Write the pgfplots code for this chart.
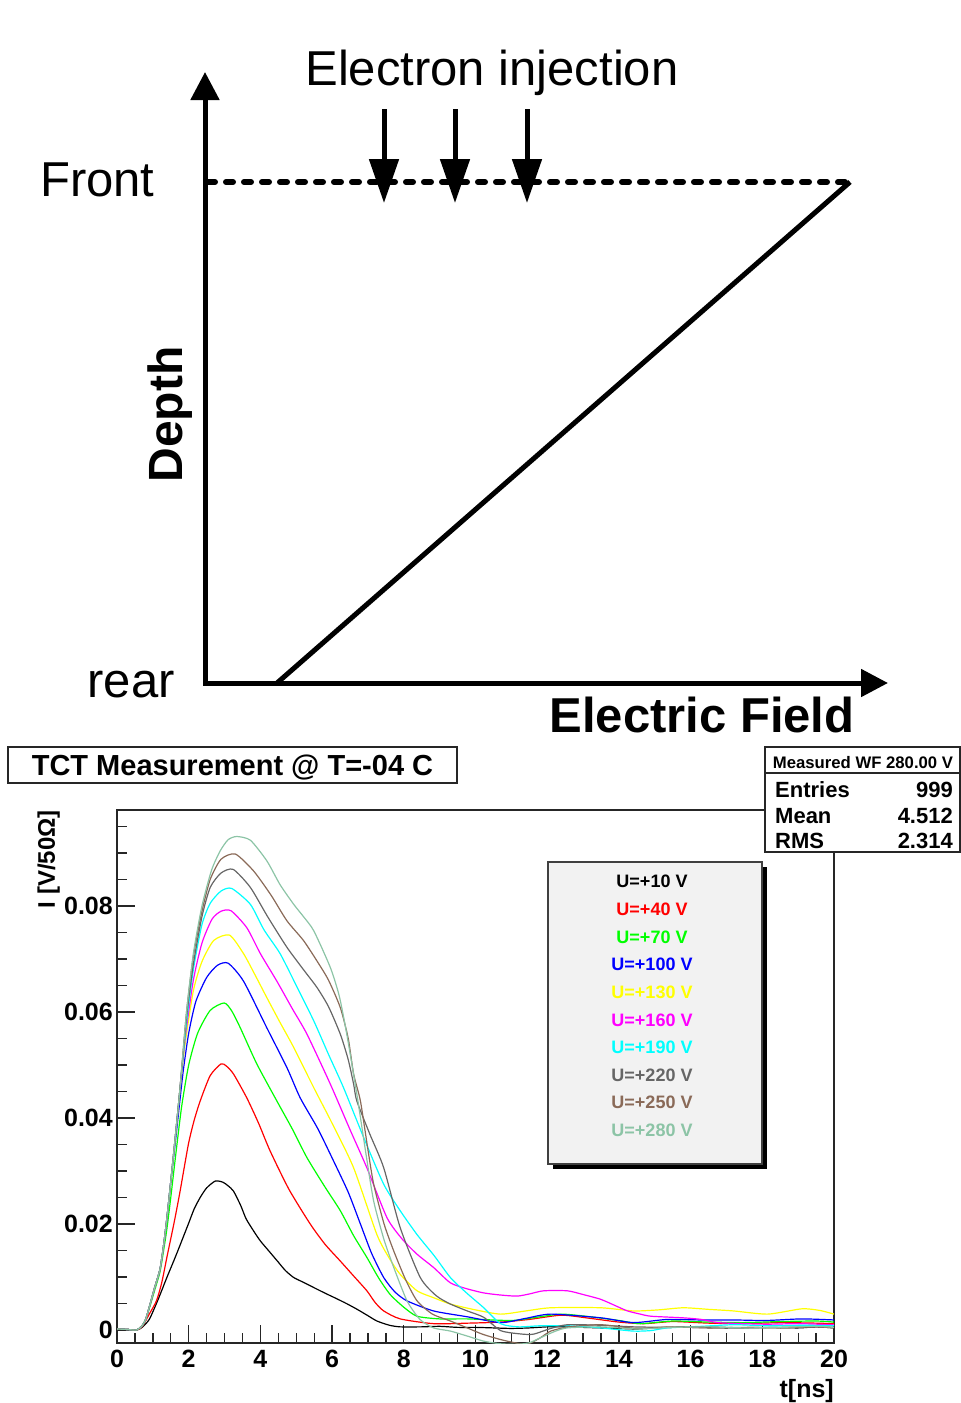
\documentclass[border=0pt]{standalone}
\usepackage{pgfplots}
\pgfplotsset{compat=1.18}
\usepackage{fontspec}
\setmainfont{Liberation Sans}
\usetikzlibrary{arrows.meta}
\definecolor{rootgray}{HTML}{666666}
\definecolor{rootbrown}{HTML}{8A6A58}
\definecolor{rootteal}{HTML}{8CC4A6}
\definecolor{rootred}{HTML}{FF0000}
\definecolor{rootgreen}{HTML}{00FF00}
\definecolor{rootblue}{HTML}{0000FF}
\definecolor{rootyellow}{HTML}{FFFF00}
\definecolor{rootmagenta}{HTML}{FF00FF}
\definecolor{rootcyan}{HTML}{00FFFF}
\definecolor{legbg}{HTML}{F2F2F2}
\newcommand{\fs}[1]{\fontsize{#1}{#1}\selectfont}
\begin{document}
\begin{tikzpicture}
\path[use as bounding box] (0pt,0pt) rectangle (961pt,-1403pt);
% ---------------- schematic ----------------
\begin{axis}[at={(0pt,-740pt)}, anchor=south west, scale only axis,
  width=961pt, height=740pt, xmin=0, xmax=961, ymin=-740, ymax=0,
  hide axis, clip=false]
\addplot[line width=5pt, line join=miter,
  {Triangle[length=28pt,width=28pt]}-{Triangle[length=27pt,width=27pt]}]
  coordinates {(205,-72) (205,-683) (888,-683)};
\addplot[line width=5pt] coordinates {(277,-683) (850,-182)};
\addplot[line width=6pt, dash pattern=on 7pt off 11pt, line cap=round]
  coordinates {(208,-182) (846,-182)};
\addplot[line width=5pt, -{Triangle[length=44pt,width=29pt]}] coordinates {(384,-109) (384,-203)};
\addplot[line width=5pt, -{Triangle[length=44pt,width=29pt]}] coordinates {(455,-109) (455,-203)};
\addplot[line width=5pt, -{Triangle[length=44pt,width=29pt]}] coordinates {(527,-109) (527,-203)};
\node[anchor=base, inner sep=0pt, font=\fs{49}] at (axis cs:492,-85) {Electron injection};
\node[anchor=base west, inner sep=0pt, font=\fs{49}] at (axis cs:40,-196) {Front};
\node[anchor=base east, inner sep=0pt, font=\fs{49}] at (axis cs:175,-697) {rear};
\node[anchor=base, rotate=90, inner sep=0pt, font=\bfseries\fs{48}] at (axis cs:182,-414.5) {Depth};
\node[anchor=base, inner sep=0pt, font=\bfseries\fs{49}] at (axis cs:702,-732) {Electric Field};
\end{axis}
% ---------------- TCT plot ----------------
\begin{axis}[at={(117pt,-1343pt)}, anchor=south west, scale only axis,
  width=717pt, height=533pt,
  xmin=0, xmax=20, ymin=-0.00245, ymax=0.0981,
  xtick={0,2,...,20},
  ytick={0,0.02,0.04,0.06,0.08}, yticklabels={0,0.02,0.04,0.06,0.08},
  scaled y ticks=false,
  minor xtick={0,0.5,...,20},
  minor ytick={0.005,0.01,0.015,0.025,0.03,0.035,0.045,0.05,0.055,0.065,0.07,0.075,0.085,0.09,0.095},
  tick align=inside, xtick pos=bottom, ytick pos=left,
  major tick length=18pt, minor tick length=10pt,
  axis line style={line width=1.3pt, black!85},
  every tick/.style={black!85, line width=1.3pt},
  ticklabel style={font=\bfseries\fs{25}},
  /pgf/number format/assume math mode=true,
  xticklabel style={inner sep=0pt, yshift=-7pt},
  yticklabel style={inner sep=0pt, xshift=-4pt},
  every axis plot/.append style={line width=1.2pt, smooth, tension=0.4},
]
% 10 V
\addplot[black] coordinates {(0,0.0002)(0.3,0.0001)(0.55,0.0)(0.7,0.0005)(0.9,0.002)(1.1,0.005)(1.25,0.0075)(1.39,0.0099)(1.55,0.0125)(1.7,0.015)(1.99,0.02)(2.15,0.0228)(2.32,0.025)(2.5,0.0268)(2.74,0.0281)(2.95,0.0279)(3.1,0.0272)(3.25,0.0262)(3.45,0.0235)(3.6,0.021)(3.8,0.0188)(4.0,0.0168)(4.25,0.0148)(4.5,0.0128)(4.7,0.0112)(4.93,0.0099)(5.2,0.009)(5.58,0.0077)(5.85,0.0068)(6.1,0.006)(6.4,0.005)(6.7,0.0039)(7.0,0.0027)(7.25,0.0017)(7.6,0.0009)(7.9,0.0006)(8.5,0.0006)(9,0.0007)(9.5,0.0005)(10,0.0005)(10.5,0.0004)(11,0.0003)(11.5,0.0004)(12,0.0006)(12.5,0.0006)(13,0.0005)(13.5,0.0004)(14,0.0003)(14.5,0.0002)(15,0.0004)(15.5,0.0005)(16,0.0005)(17,0.0004)(18,0.0005)(19,0.0004)(19.5,0.0006)(20,0.0004)};
% 40 V
\addplot[rootred] coordinates {(0,0.0002)(0.3,0.0001)(0.55,0.0)(0.7,0.0006)(0.9,0.003)(1.1,0.0055)(1.25,0.009)(1.4,0.014)(1.6,0.0205)(1.76,0.0262)(1.99,0.035)(2.15,0.0395)(2.32,0.0432)(2.6,0.048)(2.9,0.0502)(3.05,0.0498)(3.25,0.0483)(3.62,0.0438)(3.95,0.039)(4.27,0.0338)(4.8,0.0265)(5.39,0.02)(5.8,0.0162)(6.23,0.013)(6.6,0.0102)(6.97,0.0074)(7.2,0.0052)(7.44,0.0036)(7.9,0.0021)(8.83,0.0012)(9.8,0.0013)(10.7,0.0015)(11.5,0.002)(12.4,0.0028)(13.2,0.0022)(14,0.0015)(14.7,0.0012)(15.5,0.0016)(16.5,0.0013)(17.5,0.0012)(18.5,0.0014)(19.5,0.0013)(20,0.0012)};
% 70 V
\addplot[rootgreen] coordinates {(0,0.0002)(0.3,0.0001)(0.55,0.0)(0.7,0.0008)(0.8,0.002)(0.92,0.0045)(1.05,0.0075)(1.2,0.011)(1.3,0.015)(1.39,0.019)(1.5,0.025)(1.62,0.032)(1.8,0.042)(2.0,0.05)(2.25,0.056)(2.6,0.0603)(2.99,0.0617)(3.2,0.0602)(3.44,0.057)(3.9,0.0502)(4.46,0.0432)(4.9,0.0378)(5.3,0.0325)(5.8,0.027)(6.23,0.0225)(6.6,0.0178)(6.97,0.0137)(7.3,0.0098)(7.62,0.0067)(8.0,0.0043)(8.37,0.0026)(9.0,0.0021)(9.77,0.0021)(11.0,0.0018)(11.7,0.0024)(12.4,0.003)(13.2,0.0025)(14,0.0018)(14.6,0.0012)(15.5,0.0017)(16.5,0.0015)(17.5,0.0014)(18.5,0.0016)(19.5,0.0017)(20,0.0015)};
% 100 V
\addplot[rootblue] coordinates {(0,0.0002)(0.3,0.0001)(0.55,0.0)(0.7,0.0008)(0.8,0.002)(0.92,0.0048)(1.05,0.008)(1.2,0.0115)(1.3,0.016)(1.39,0.021)(1.5,0.028)(1.62,0.035)(1.75,0.043)(1.85,0.049)(2.0,0.056)(2.2,0.062)(2.5,0.0665)(2.8,0.0688)(3.1,0.0692)(3.53,0.0658)(4.18,0.057)(4.74,0.0495)(5.11,0.0438)(5.6,0.038)(6.04,0.0319)(6.45,0.026)(6.79,0.02)(7.1,0.0145)(7.44,0.0099)(7.75,0.0072)(8.09,0.0055)(8.83,0.0036)(9.77,0.0025)(10.7,0.0014)(11.4,0.0022)(12.1,0.003)(13.5,0.0023)(14.4,0.0014)(15.35,0.002)(16.3,0.0019)(17.2,0.0019)(18.1,0.0018)(19.1,0.0021)(20,0.0019)};
% 130 V
\addplot[rootyellow] coordinates {(0,0.0002)(0.3,0.0001)(0.55,0.0)(0.7,0.0008)(0.8,0.002)(0.92,0.0048)(1.05,0.008)(1.2,0.0115)(1.3,0.016)(1.39,0.021)(1.5,0.028)(1.62,0.036)(1.75,0.045)(1.9,0.054)(2.13,0.064)(2.37,0.0695)(2.7,0.0735)(3.14,0.0745)(3.53,0.071)(3.85,0.067)(4.18,0.0627)(4.55,0.058)(4.93,0.0533)(5.49,0.0457)(6.0,0.039)(6.6,0.0306)(7.25,0.018)(7.6,0.0135)(7.9,0.0105)(8.37,0.0074)(8.83,0.0061)(9.3,0.0049)(10.0,0.0038)(10.7,0.003)(11.4,0.0036)(12.1,0.0042)(13.5,0.0042)(14.4,0.0036)(15.1,0.0038)(15.8,0.0042)(16.5,0.0039)(17.2,0.0036)(18.15,0.003)(19.1,0.004)(19.6,0.0037)(20,0.003)};
% 160 V
\addplot[rootmagenta] coordinates {(0,0.0002)(0.3,0.0001)(0.55,0.0)(0.7,0.0008)(0.8,0.002)(0.92,0.0048)(1.05,0.008)(1.2,0.0115)(1.3,0.016)(1.39,0.021)(1.5,0.028)(1.62,0.036)(1.75,0.045)(1.9,0.055)(2.13,0.066)(2.37,0.073)(2.65,0.0775)(2.9,0.079)(3.18,0.0791)(3.62,0.0759)(4.0,0.071)(4.46,0.0658)(4.9,0.0605)(5.3,0.0558)(5.95,0.0464)(6.5,0.0378)(6.97,0.0306)(7.53,0.0212)(7.95,0.0172)(8.37,0.0143)(8.83,0.0118)(9.3,0.0089)(9.75,0.0078)(10.23,0.007)(10.7,0.0066)(11.16,0.0064)(11.5,0.0068)(11.9,0.0074)(12.56,0.0074)(13.0,0.0067)(13.49,0.0058)(13.9,0.0046)(14.24,0.0036)(14.6,0.003)(14.9,0.0026)(15.8,0.0023)(16.3,0.002)(16.75,0.0014)(17.5,0.0012)(18.15,0.0011)(19,0.0012)(20,0.001)};
% 190 V
\addplot[rootcyan] coordinates {(0,0.0002)(0.3,0.0001)(0.55,0.0)(0.7,0.0008)(0.8,0.002)(0.92,0.0048)(1.05,0.008)(1.2,0.0115)(1.3,0.016)(1.39,0.021)(1.5,0.028)(1.62,0.036)(1.75,0.045)(1.94,0.058)(2.13,0.068)(2.37,0.0765)(2.6,0.0805)(2.9,0.0828)(3.2,0.0833)(3.72,0.0803)(4.1,0.0755)(4.55,0.071)(5.0,0.065)(5.49,0.0583)(5.9,0.052)(6.32,0.0457)(6.9,0.036)(7.44,0.0275)(7.9,0.0225)(8.37,0.018)(8.85,0.014)(9.3,0.0099)(9.75,0.007)(10.23,0.0042)(10.7,0.0012)(11.2,0.0006)(11.8,0.0008)(12.6,0.0008)(13.5,0.0004)(14.4,-0.0002)(14.9,-0.0001)(15.35,0.0004)(16.3,0.0007)(17.2,0.001)(18.2,0.0008)(19.2,0.0009)(20,0.0008)};
% 220 V
\addplot[rootgray] coordinates {(0,0.0002)(0.3,0.0001)(0.55,0.0)(0.7,0.0008)(0.8,0.002)(0.92,0.0048)(1.05,0.008)(1.2,0.0115)(1.3,0.016)(1.39,0.021)(1.5,0.028)(1.62,0.036)(1.75,0.045)(1.94,0.059)(2.13,0.069)(2.37,0.078)(2.6,0.0835)(2.9,0.0862)(3.24,0.0869)(3.72,0.0835)(4.2,0.078)(4.74,0.0722)(5.2,0.068)(5.58,0.0646)(5.9,0.061)(6.23,0.0558)(6.45,0.051)(6.6,0.0464)(6.69,0.0432)(7.05,0.037)(7.44,0.0306)(7.9,0.0193)(8.46,0.0099)(8.9,0.0065)(9.3,0.0049)(9.77,0.0036)(10.23,0.0024)(10.7,-0.0001)(11.2,-0.0007)(11.6,-0.0008)(12.1,0.0003)(12.56,0.001)(13.5,0.0009)(14.4,0.0006)(15.5,0.0005)(16.5,0.0006)(17.5,0.0004)(18.5,0.0005)(19.5,0.0006)(20,0.0005)};
% 250 V
\addplot[rootbrown] coordinates {(0,0.0002)(0.3,0.0001)(0.55,0.0)(0.7,0.0008)(0.8,0.002)(0.92,0.0048)(1.05,0.008)(1.2,0.0115)(1.3,0.016)(1.39,0.021)(1.5,0.028)(1.62,0.036)(1.75,0.045)(1.94,0.06)(2.13,0.0705)(2.37,0.079)(2.6,0.085)(2.9,0.0888)(3.3,0.0898)(3.81,0.0866)(4.3,0.082)(4.74,0.0772)(5.2,0.0735)(5.58,0.0696)(5.9,0.066)(6.23,0.0608)(6.45,0.055)(6.6,0.0483)(6.79,0.0432)(7.0,0.034)(7.16,0.0275)(7.45,0.02)(7.72,0.0149)(8.05,0.0095)(8.37,0.0055)(8.8,0.003)(9.3,0.0017)(9.77,0.0004)(10.2,-0.0008)(10.7,-0.0018)(11.1,-0.0024)(11.44,-0.0027)(11.8,-0.0015)(12.1,-0.0002)(12.6,0.0006)(13.5,0.001)(14.5,0.0003)(15.5,0.0006)(16.5,0.0004)(17.5,0.0005)(18.5,0.0004)(19.5,0.0006)(20,0.0004)};
% 280 V
\addplot[rootteal] coordinates {(0,0.0002)(0.3,0.0001)(0.55,0.0)(0.7,0.0008)(0.8,0.002)(0.92,0.0048)(1.05,0.008)(1.2,0.0115)(1.3,0.016)(1.39,0.021)(1.5,0.028)(1.62,0.036)(1.75,0.045)(1.94,0.06)(2.13,0.071)(2.37,0.08)(2.64,0.0868)(2.88,0.0904)(3.1,0.0925)(3.34,0.0931)(3.72,0.0924)(4.18,0.0885)(4.55,0.084)(4.93,0.0803)(5.2,0.078)(5.49,0.0753)(5.95,0.0684)(6.2,0.063)(6.41,0.0558)(6.69,0.0445)(6.95,0.033)(7.16,0.0243)(7.45,0.017)(7.72,0.0118)(8.09,0.0055)(8.45,0.002)(8.83,0.0004)(9.3,-0.0002)(9.8,-0.0012)(10.23,-0.0021)(10.7,-0.0026)(11.16,-0.0027)(11.5,-0.0024)(11.8,-0.0015)(12.2,-0.0003)(12.56,0.0004)(13.5,0.0006)(14.5,0.0002)(15.5,0.0005)(16.5,0.0006)(17.5,0.0004)(18.5,0.0005)(19.5,0.0007)(20,0.0005)};
\end{axis}
% axis titles
\node[rotate=90, anchor=south east, inner sep=0pt, font=\bfseries\fs{24}] at (60pt,-810pt) {I [V/50Ω]};
\node[anchor=base east, inner sep=0pt, font=\bfseries\fs{25}] at (834pt,-1397pt) {t[ns]};
% title box
\node[draw=black!85, line width=1.3pt, minimum width=449pt, minimum height=36pt, inner sep=0pt,
  text height=20pt, text depth=0pt, font=\bfseries\fs{29}] at (232.5pt,-765pt) {TCT Measurement @ T=-04 C};
% stats box
\filldraw[fill=white, draw=black!85, line width=1.3pt] (765pt,-747pt) rectangle (960pt,-852pt);
\draw[black!85, line width=1.3pt] (765pt,-773pt) -- (960pt,-773pt);
\node[anchor=base, inner sep=0pt, font=\bfseries\fs{16.7}] at (863pt,-768pt) {Measured WF 280.00 V};
\node[anchor=base west, inner sep=0pt, font=\bfseries\fs{22}] at (775pt,-797pt) {Entries};
\node[anchor=base east, inner sep=0pt, font=\bfseries\fs{22}] at (953pt,-797pt) {999};
\node[anchor=base west, inner sep=0pt, font=\bfseries\fs{22}] at (775pt,-823pt) {Mean};
\node[anchor=base east, inner sep=0pt, font=\bfseries\fs{22}] at (953pt,-823pt) {4.512};
\node[anchor=base west, inner sep=0pt, font=\bfseries\fs{22}] at (775pt,-848pt) {RMS};
\node[anchor=base east, inner sep=0pt, font=\bfseries\fs{22}] at (953pt,-848pt) {2.314};
% legend
\fill[black] (553pt,-867pt) rectangle (767pt,-1169pt);
\filldraw[fill=legbg, draw=black!75, line width=1.3pt] (548pt,-862pt) rectangle (762pt,-1164pt);
\foreach \t/\c/\y in {U=+10 V/black/887, U=+40 V/rootred/915, U=+70 V/rootgreen/943,
  U=+100 V/rootblue/970, U=+130 V/rootyellow/998, U=+160 V/rootmagenta/1026,
  U=+190 V/rootcyan/1053, U=+220 V/rootgray/1081, U=+250 V/rootbrown/1108, U=+280 V/rootteal/1136}
  {\node[anchor=base, inner sep=0pt, text=\c, font=\bfseries\fs{18}] at (652pt,-\y pt) {\t};}
\end{tikzpicture}
\end{document}
